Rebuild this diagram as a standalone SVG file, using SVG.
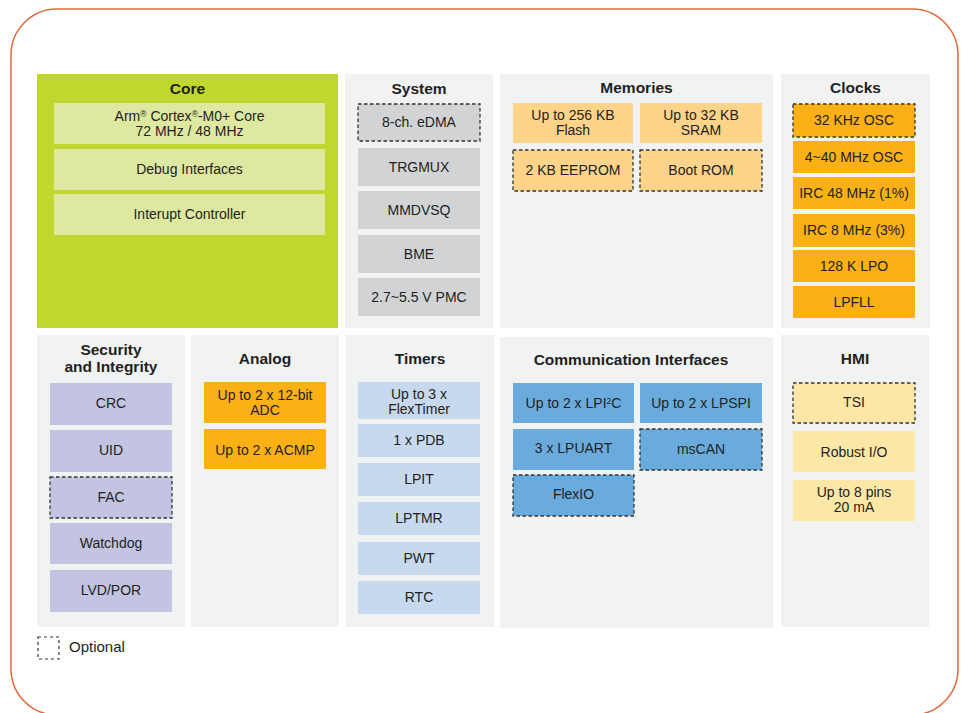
<svg xmlns="http://www.w3.org/2000/svg" width="961" height="713" viewBox="0 0 961 713">
<style>
text{font-family:"Liberation Sans",Arial,sans-serif;fill:#231f20;text-anchor:middle}
.t{font-size:15.5px;font-weight:bold}
.b{font-size:14px}
.p{fill:#f1f2f2}
.dash{stroke:#333;stroke-width:1.3;stroke-dasharray:3.5 2.5}
.core{fill:#dfe8a1}
.sys{fill:#d1d3d4}
.mem{fill:#fdd48a}
.org{fill:#fbb016}
.sec{fill:#c3c4e1}
.tim{fill:#c6d9ef}
.com{fill:#6aabde}
.hmi{fill:#fde7a7}
</style>
<rect x="11" y="9" width="947" height="706" rx="46" ry="46" fill="#fff" stroke="#e2693a" stroke-width="1.5"/>

<g id="core">
<rect x="37" y="74" width="301" height="254" fill="#c0d72f"/>
<text class="t" x="187.5" y="94">Core</text>
<rect class="core" x="54" y="103" width="271" height="41"/>
<text class="b" x="189.5" y="121">Arm<tspan font-size="8.5" dy="-4">®</tspan><tspan dy="4"> Cortex</tspan><tspan font-size="8.5" dy="-4">®</tspan><tspan dy="4">-M0+ Core</tspan></text>
<text class="b" x="189.5" y="136">72 MHz / 48 MHz</text>
<rect class="core" x="54" y="149" width="271" height="41"/>
<text class="b" x="189.5" y="174">Debug Interfaces</text>
<rect class="core" x="54" y="194" width="271" height="41"/>
<text class="b" x="189.5" y="219">Interupt Controller</text>
</g>

<g id="system">
<rect class="p" x="345" y="74" width="148" height="254"/>
<text class="t" x="419" y="94">System</text>
<rect class="sys dash" x="358" y="104" width="122" height="37"/>
<text class="b" x="419" y="127">8-ch. eDMA</text>
<rect class="sys" x="358" y="148" width="122" height="38"/>
<text class="b" x="419" y="172">TRGMUX</text>
<rect class="sys" x="358" y="191" width="122" height="38"/>
<text class="b" x="419" y="215">MMDVSQ</text>
<rect class="sys" x="358" y="235" width="122" height="38"/>
<text class="b" x="419" y="259">BME</text>
<rect class="sys" x="358" y="278" width="122" height="38"/>
<text class="b" x="419" y="302">2.7~5.5 V PMC</text>
</g>

<g id="memories">
<rect class="p" x="500" y="74" width="273" height="254"/>
<text class="t" x="636.5" y="93">Memories</text>
<rect class="mem" x="513" y="103" width="120" height="40"/>
<text class="b" x="573" y="120">Up to 256 KB</text>
<text class="b" x="573" y="135">Flash</text>
<rect class="mem" x="640" y="103" width="122" height="40"/>
<text class="b" x="701" y="120">Up to 32 KB</text>
<text class="b" x="701" y="135">SRAM</text>
<rect class="mem dash" x="513" y="150" width="120" height="41"/>
<text class="b" x="573" y="175">2 KB EEPROM</text>
<rect class="mem dash" x="640" y="150" width="122" height="41"/>
<text class="b" x="701" y="175">Boot ROM</text>
</g>

<g id="clocks">
<rect class="p" x="781" y="74" width="149" height="254"/>
<text class="t" x="855.5" y="93">Clocks</text>
<rect class="org dash" x="793" y="104" width="122" height="33"/>
<text class="b" x="854" y="125">32 KHz OSC</text>
<rect class="org" x="793" y="141" width="122" height="32"/>
<text class="b" x="854" y="162">4~40 MHz OSC</text>
<rect class="org" x="793" y="177" width="122" height="32"/>
<text class="b" x="854" y="198">IRC 48 MHz (1%)</text>
<rect class="org" x="793" y="214" width="122" height="33"/>
<text class="b" x="854" y="235">IRC 8 MHz (3%)</text>
<rect class="org" x="793" y="250" width="122" height="32"/>
<text class="b" x="854" y="271">128 K LPO</text>
<rect class="org" x="793" y="286" width="122" height="32"/>
<text class="b" x="854" y="307">LPFLL</text>
</g>

<g id="security">
<rect class="p" x="37" y="335" width="148" height="292"/>
<text class="t" x="111" y="355">Security</text>
<text class="t" x="111" y="372">and Integrity</text>
<rect class="sec" x="50" y="383" width="122" height="42"/>
<text class="b" x="111" y="408">CRC</text>
<rect class="sec" x="50" y="430" width="122" height="42"/>
<text class="b" x="111" y="455">UID</text>
<rect class="sec dash" x="50" y="477" width="122" height="41"/>
<text class="b" x="111" y="502">FAC</text>
<rect class="sec" x="50" y="523" width="122" height="41"/>
<text class="b" x="111" y="548">Watchdog</text>
<rect class="sec" x="50" y="570" width="122" height="42"/>
<text class="b" x="111" y="595">LVD/POR</text>
</g>

<g id="analog">
<rect class="p" x="191" y="335" width="148" height="292"/>
<text class="t" x="265" y="364">Analog</text>
<rect class="org" x="204" y="382" width="122" height="41"/>
<text class="b" x="265" y="400">Up to 2 x 12-bit</text>
<text class="b" x="265" y="415">ADC</text>
<rect class="org" x="204" y="429" width="122" height="40"/>
<text class="b" x="265" y="455">Up to 2 x ACMP</text>
</g>

<g id="timers">
<rect class="p" x="346" y="335" width="148" height="292"/>
<text class="t" x="420" y="364">Timers</text>
<rect class="tim" x="358" y="382" width="122" height="37"/>
<text class="b" x="419" y="399">Up to 3 x</text>
<text class="b" x="419" y="414">FlexTimer</text>
<rect class="tim" x="358" y="424" width="122" height="33"/>
<text class="b" x="419" y="445">1 x PDB</text>
<rect class="tim" x="358" y="463" width="122" height="33"/>
<text class="b" x="419" y="484">LPIT</text>
<rect class="tim" x="358" y="502" width="122" height="33"/>
<text class="b" x="419" y="523">LPTMR</text>
<rect class="tim" x="358" y="542" width="122" height="33"/>
<text class="b" x="419" y="563">PWT</text>
<rect class="tim" x="358" y="581" width="122" height="33"/>
<text class="b" x="419" y="602">RTC</text>
</g>

<g id="comm">
<rect class="p" x="500" y="337" width="273" height="291"/>
<text class="t" x="631" y="365">Communication Interfaces</text>
<rect class="com" x="513" y="383" width="121" height="40"/>
<text class="b" x="573.5" y="408">Up to 2 x LPI<tspan font-size="8.5" dy="-4.5">2</tspan><tspan dy="4.5">C</tspan></text>
<rect class="com" x="640" y="383" width="122" height="40"/>
<text class="b" x="701" y="408">Up to 2 x LPSPI</text>
<rect class="com" x="513" y="429" width="121" height="41"/>
<text class="b" x="573.5" y="453">3 x LPUART</text>
<rect class="com dash" x="640" y="429" width="122" height="41"/>
<text class="b" x="701" y="454">msCAN</text>
<rect class="com dash" x="513" y="475" width="121" height="41"/>
<text class="b" x="573.5" y="499">FlexIO</text>
</g>

<g id="hmi">
<rect class="p" x="781" y="335" width="148" height="292"/>
<text class="t" x="855" y="364">HMI</text>
<rect class="hmi dash" x="793" y="383" width="122" height="40"/>
<text class="b" x="854" y="407">TSI</text>
<rect class="hmi" x="793" y="431" width="122" height="41"/>
<text class="b" x="854" y="457">Robust I/O</text>
<rect class="hmi" x="793" y="480" width="122" height="41"/>
<text class="b" x="854" y="497">Up to 8 pins</text>
<text class="b" x="854" y="512">20 mA</text>
</g>

<g id="legend">
<rect x="38" y="637" width="21" height="22" fill="none" stroke="#333" stroke-width="1.2" stroke-dasharray="3 3"/>
<text x="69" y="652" font-size="15" style="text-anchor:start">Optional</text>
</g>
<g id="connectors"/>
</svg>
